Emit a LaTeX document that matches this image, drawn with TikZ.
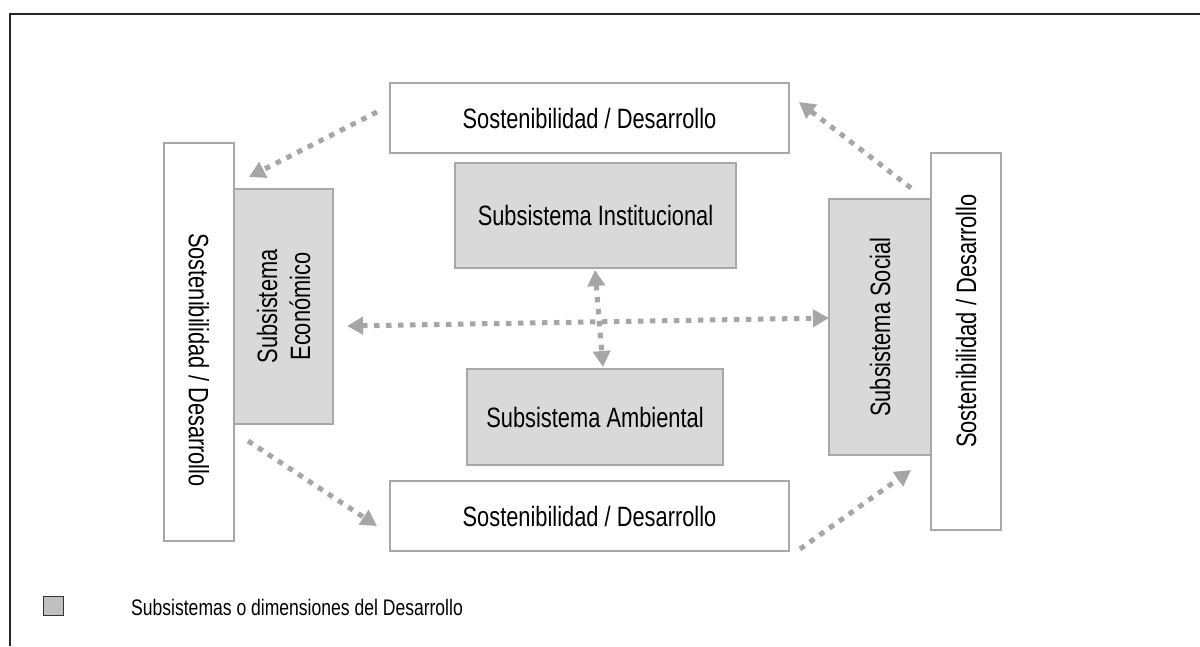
\documentclass[tikz,border=0pt]{standalone}
\usepackage{fontspec}
\setmainfont{Liberation Sans}[FakeStretch=0.78]
\usetikzlibrary{arrows.meta,calc}
\definecolor{boxgray}{HTML}{D9D9D9}
\definecolor{linegray}{HTML}{A8A8A8}
\definecolor{arrgray}{HTML}{A6A6A6}
\definecolor{leggray}{HTML}{C0C0C0}
\tikzset{
  whitebox/.style={draw=linegray, line width=2pt, fill=white, rectangle, inner sep=0pt},
  graybox/.style={draw=linegray, line width=2pt, fill=boxgray, rectangle, inner sep=0pt, align=center, font=\fontsize{28pt}{33pt}\selectfont},
  lbl/.style={inner sep=0pt, font=\fontsize{28pt}{33pt}\selectfont},
  dotarrow/.style={draw=arrgray, line width=5pt, dash pattern=on 5.5pt off 6.5pt, -{Triangle[length=16pt,width=17pt]}},
  dotdouble/.style={draw=arrgray, line width=5pt, dash pattern=on 5.5pt off 6.5pt, {Triangle[length=16pt,width=17pt]}-{Triangle[length=16pt,width=17pt]}}
}
\begin{document}
\begin{tikzpicture}[x=1pt,y=-1pt]
\useasboundingbox (0,0) rectangle (1200,646);
% frame
\draw[line width=2.5pt, black!85] (10,646) -- (10,14) -- (1200,14);
% white boxes
\node[whitebox, minimum width=399pt, minimum height=70pt] (top) at (589.5,118) {};
\node[lbl] (toptxt) at (589.5,118) {Sostenibilidad / Desarrollo};
\node[whitebox, minimum width=399pt, minimum height=70pt] (bot) at (589.5,516) {};
\node[lbl] (bottxt) at (589.5,516) {Sostenibilidad / Desarrollo};
\node[whitebox, minimum width=70pt, minimum height=398pt] (left) at (199,342) {};
\node[lbl, rotate=-90] (lefttxt) at (199,360) {Sostenibilidad / Desarrollo};
\node[whitebox, minimum width=70pt, minimum height=377pt] (right) at (966,341.5) {};
\node[lbl, rotate=90] (righttxt) at (966,321) {Sostenibilidad / Desarrollo};
% gray boxes
\node[graybox, rotate=90, minimum width=235pt, minimum height=99pt] (econ) at (283.5,306.5) {Subsistema\\Económico};
\node[graybox, rotate=90, minimum width=256pt, minimum height=102pt] (social) at (880,327) {Subsistema Social};
\node[graybox, minimum width=281pt, minimum height=105pt] (inst) at (595.5,215.5) {Subsistema Institucional};
\node[graybox, minimum width=256pt, minimum height=96pt] (amb) at (595,417) {Subsistema Ambiental};
% arrow end points
\coordinate (a1s) at (377,112);
\coordinate (a1e) at (249,177);
\coordinate (a2s) at (248,441);
\coordinate (a2e) at (377,526);
\coordinate (a3s) at (911,188);
\coordinate (a3e) at (799,102);
\coordinate (a4s) at (800,549);
\coordinate (a4e) at (911,470);
\coordinate (hl) at (347,326);
\coordinate (hr) at (829,318);
\coordinate (vt) at (595,270);
\coordinate (vb) at (603,367);
\draw[dotarrow] (a1s) -- (a1e);
\draw[dotarrow] (a2s) -- (a2e);
\draw[dotarrow] (a3s) -- (a3e);
\draw[dotarrow] (a4s) -- (a4e);
\draw[dotdouble] (hl) -- (hr);
\draw[dotdouble] (vt) -- (vb);
% legend
\node[draw=black!80, line width=1.5pt, fill=leggray, minimum width=20pt, minimum height=19pt, inner sep=0pt] (leg) at (53.5,606) {};
\node[anchor=west, inner sep=0pt, font=\fontsize{22.5pt}{26pt}\selectfont] (legtxt) at (131,607) {Subsistemas o dimensiones del Desarrollo};
\end{tikzpicture}
\end{document}
